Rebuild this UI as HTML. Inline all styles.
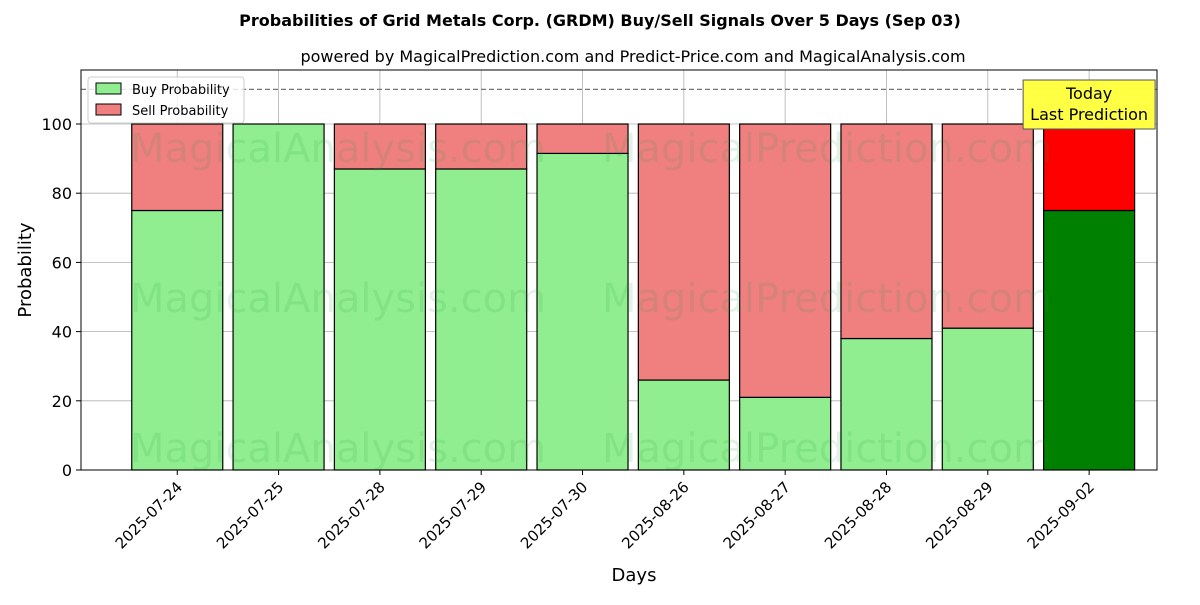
<!DOCTYPE html>
<html><head><meta charset="utf-8"><style>
html,body{margin:0;padding:0;background:#fff;}
svg text{font-family:"DejaVu Sans","Liberation Sans",sans-serif;}
</style></head><body>
<svg id="chart" width="1200" height="600" xmlns="http://www.w3.org/2000/svg">
<text x="600" y="26" text-anchor="middle" font-size="16" font-weight="bold">Probabilities of Grid Metals Corp. (GRDM) Buy/Sell Signals Over 5 Days (Sep 03)</text>
<text x="633" y="62" text-anchor="middle" font-size="16">powered by MagicalPrediction.com and Predict-Price.com and MagicalAnalysis.com</text>
<g id="grid"></g>
<g id="bars"></g>
<g id="wm" fill="#2a9d3a" fill-opacity="0.13" font-size="40">
<text x="130" y="162">MagicalAnalysis.com</text><text x="602" y="162">MagicalPrediction.com</text>
<text x="130" y="312">MagicalAnalysis.com</text><text x="602" y="312">MagicalPrediction.com</text>
<text x="130" y="462">MagicalAnalysis.com</text><text x="602" y="462">MagicalPrediction.com</text>
</g>
<g id="axes"></g>
<text x="634" y="581" text-anchor="middle" font-size="18">Days</text>
<text transform="translate(31,270) rotate(-90)" text-anchor="middle" font-size="18">Probability</text>
<g>
<rect x="88" y="77" width="156" height="46" fill="#fff" fill-opacity="0.8" stroke="#ccc" rx="3"/>
<rect x="96" y="83" width="25" height="11" fill="#90ee90" stroke="#000"/>
<text x="132" y="94" font-size="13">Buy Probability</text>
<rect x="96" y="104" width="25" height="11" fill="#f08080" stroke="#000"/>
<text x="132" y="115" font-size="13">Sell Probability</text>
</g>
</svg>
<script>
const categories=["2025-07-24","2025-07-25","2025-07-28","2025-07-29","2025-07-30","2025-08-26","2025-08-27","2025-08-28","2025-08-29","2025-09-02"];
const buyValues=[75,100,87,87,91.5,26,21,38,41,75];
const sellValues=[25,0,13,13,8.5,74,79,62,59,25];
const yTicks=[0,20,40,60,80,100];
const thresholdValue=110;
const NS="http://www.w3.org/2000/svg";
const L=81,R=1157,T=70,B=470;
const xs=i=>L+(i+0.95)*(R-L)/10.62;
const ys=v=>B-v*3.46;
const bw=91;
function mk(tag,attrs,parent){const e=document.createElementNS(NS,tag);for(const k in attrs)e.setAttribute(k,attrs[k]);parent.appendChild(e);return e;}
const grid=document.getElementById('grid'),bars=document.getElementById('bars'),axes=document.getElementById('axes');
yTicks.forEach(t=>{const y=ys(t);
 const g=mk('line',{x1:L,x2:R,y1:y,y2:y,stroke:'#b0b0b0','stroke-width':0.8},grid);
 
 
 mk('line',{x1:L-5,x2:L,y1:y,y2:y,stroke:'#000'},axes);
 const tx=mk('text',{x:L-9,y:y+6,'text-anchor':'end','font-size':16},axes);tx.textContent=t;
 
 
});
categories.forEach((c,i)=>{const x=xs(i);
 const g=mk('line',{x1:x,x2:x,y1:T,y2:B,stroke:'#b0b0b0','stroke-width':0.8},grid);
 
 
 const last=i===categories.length-1;
 const b=mk('rect',{x:x-bw/2,y:ys(buyValues[i]),width:bw,height:ys(0)-ys(buyValues[i]),fill:last?'#008000':'#90ee90',stroke:'#000','stroke-width':1.2},bars);
 
 
 const s=mk('rect',{x:x-bw/2,y:ys(buyValues[i]+sellValues[i]),width:bw,height:ys(buyValues[i])-ys(buyValues[i]+sellValues[i]),fill:last?'#ff0000':'#f08080',stroke:'#000','stroke-width':1.2},bars);
 
 
 mk('line',{x1:x,x2:x,y1:B,y2:B+5,stroke:'#000'},axes);
 const tx=mk('text',{x:x+6,y:B+18,'text-anchor':'end','font-size':15,transform:`rotate(-45 ${x+6} ${B+18})`},axes);tx.textContent=c;
 
 
});
const th=mk('line',{x1:L,x2:R,y1:ys(thresholdValue),y2:ys(thresholdValue),stroke:'#777','stroke-width':1.2,'stroke-dasharray':'5,3'},axes);


const fr=mk('rect',{x:L,y:T,width:R-L,height:B-T,fill:'none',stroke:'#000','stroke-width':1},axes);


const lx=xs(categories.length-1);
const ab=mk('rect',{x:lx-66,y:80,width:132,height:49,fill:'#ffff44',stroke:'#555'},axes);


const a1=mk('text',{x:lx,y:99,'text-anchor':'middle','font-size':16},axes);a1.textContent='Today';


const a2=mk('text',{x:lx,y:120,'text-anchor':'middle','font-size':16},axes);a2.textContent='Last Prediction';


</script>
</body></html>
